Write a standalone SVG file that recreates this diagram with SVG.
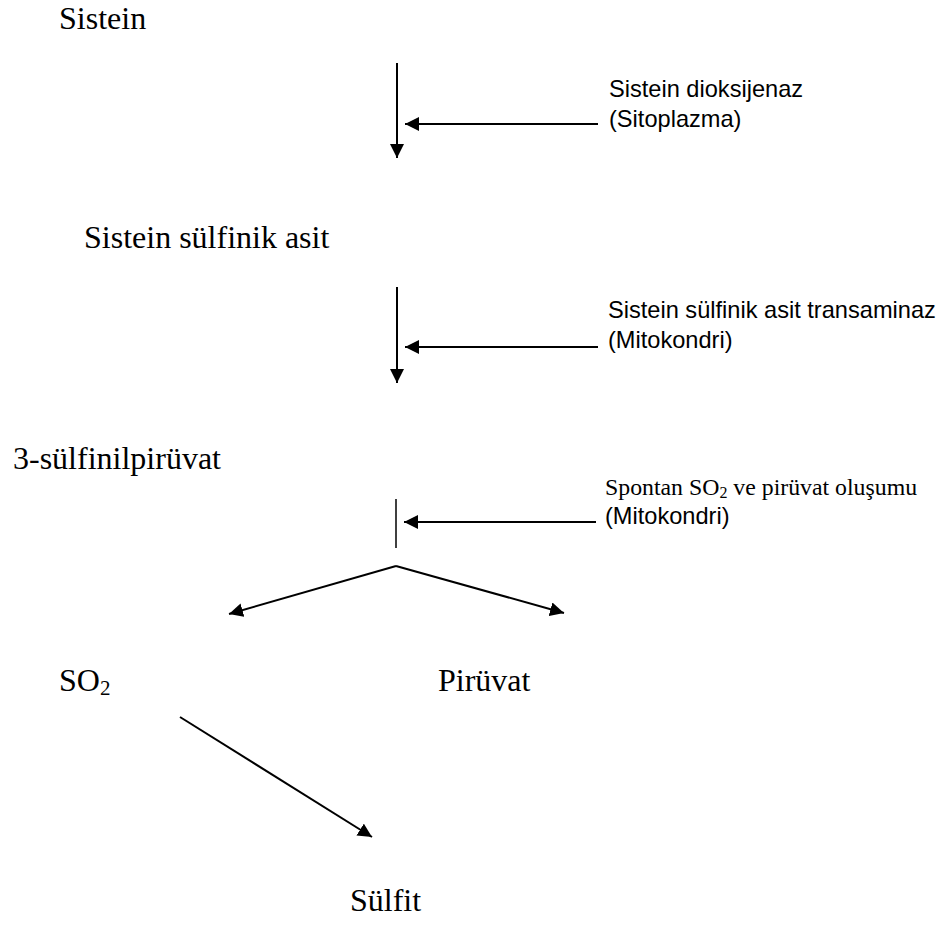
<svg xmlns="http://www.w3.org/2000/svg" width="949" height="925" viewBox="0 0 949 925">
<style>
.node{font-family:"Liberation Serif","Times New Roman",serif;font-size:32px;fill:#000}
.enz{font-family:"Liberation Sans",Arial,sans-serif;font-size:23.6px;fill:#000}
.enzs{font-family:"Liberation Serif","Times New Roman",serif;font-size:23.8px;fill:#000}
.ln{stroke:#000;stroke-width:2;fill:none}
</style>
<defs>
<marker id="ah" markerUnits="userSpaceOnUse" markerWidth="16" markerHeight="14" refX="14" refY="7" orient="auto">
<path d="M0,0 L14,7 L0,14 Z" fill="#000"/>
</marker>
</defs>
<rect width="949" height="925" fill="#fff"/>
<g id="connectors">
<line class="ln" x1="397" y1="63" x2="397" y2="158" marker-end="url(#ah)"/>
<line class="ln" x1="598" y1="124" x2="405" y2="124" marker-end="url(#ah)"/>
<line class="ln" x1="397" y1="287" x2="397" y2="383" marker-end="url(#ah)"/>
<line class="ln" x1="598" y1="347" x2="405" y2="347" marker-end="url(#ah)"/>
<line class="ln" x1="396" y1="499" x2="396" y2="548" style="stroke-width:1.5"/>
<line class="ln" x1="596" y1="522" x2="404" y2="522" marker-end="url(#ah)"/>
<line class="ln" x1="396" y1="566" x2="229" y2="614" marker-end="url(#ah)"/>
<line class="ln" x1="396" y1="566" x2="564" y2="613" marker-end="url(#ah)"/>
<line class="ln" x1="180" y1="717" x2="372" y2="837" marker-end="url(#ah)"/>
</g>
<g id="n-sistein"><text class="node" x="59" y="29">Sistein</text></g>
<g id="n-sulfinik"><text class="node" x="84" y="248">Sistein sülfinik asit</text></g>
<g id="n-sulfinilpiruvat"><text class="node" x="13" y="469">3-sülfinilpirüvat</text></g>
<g id="n-so2"><text class="node" x="59" y="691">SO<tspan font-size="21" dy="4">2</tspan></text></g>
<g id="n-piruvat"><text class="node" x="438" y="691">Pirüvat</text></g>
<g id="n-sulfit"><text class="node" x="350" y="911">Sülfit</text></g>
<g id="e-dioksijenaz">
<text class="enz" x="609" y="97">Sistein dioksijenaz</text>
<text class="enz" x="609" y="127">(Sitoplazma)</text>
</g>
<g id="e-transaminaz">
<text class="enz" x="608" y="318">Sistein sülfinik asit transaminaz</text>
<text class="enz" x="608" y="348">(Mitokondri)</text>
</g>
<g id="e-spontan">
<text class="enzs" x="605" y="495">Spontan SO<tspan font-size="16" dy="3">2</tspan><tspan dy="-3"> ve pirüvat oluşumu</tspan></text>
<text class="enz" x="605" y="524">(Mitokondri)</text>
</g>
</svg>
